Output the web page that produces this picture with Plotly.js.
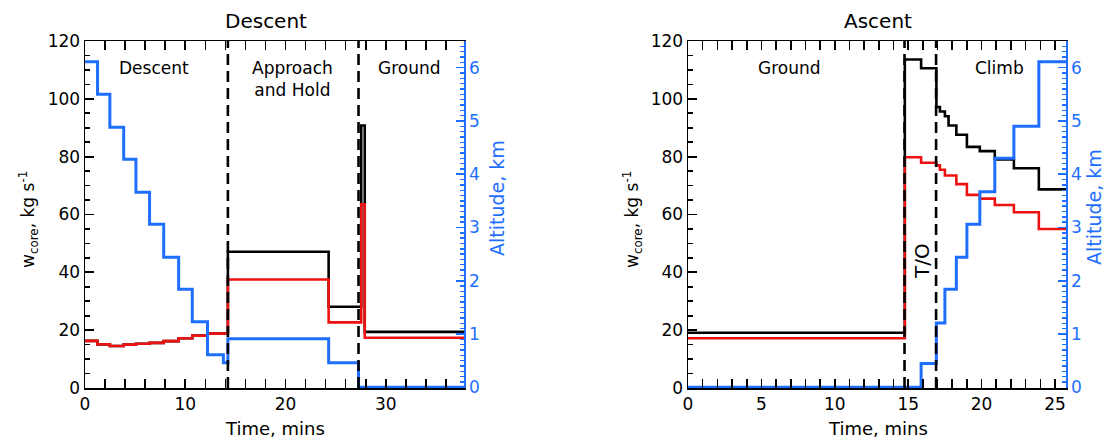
<!DOCTYPE html>
<html>
<head>
<meta charset="utf-8">
<script src="https://cdn.plot.ly/plotly-3.0.1.min.js"></script>
<style>html,body{margin:0;padding:0;background:#fff;}#chart{width:1106px;height:440px;}</style>
</head>
<body>
<div id="chart"></div>
<script>
// ---------------- Data: Descent panel ----------------
const descentStart = [0, 1.25, 2.48, 3.86, 5.08, 6.44, 7.85, 9.34, 10.7, 12.22, 13.8, 14.25, 24.3, 27.28, 27.55, 27.9];
const descentEnd = 37.8;
const descentTotal = [16.3, 15.1, 14.5, 15.0, 15.3, 15.6, 16.2, 17.2, 18.1, 18.8, 18.8, 47.1, 28.1, 28.1, 90.8, 19.4];
const descentCore  = [16.3, 15.1, 14.5, 15.0, 15.3, 15.6, 16.2, 17.2, 18.1, 18.8, 18.8, 37.5, 22.7, 22.7, 63.5, 17.4];
const descentAlt   = [6.11, 5.50, 4.88, 4.28, 3.66, 3.06, 2.44, 1.84, 1.23, 0.61, 0.46, 0.91, 0.46, 0, 0, 0];
const descentPhaseLines = [14.25, 27.28];

// ---------------- Data: Ascent panel ----------------
const ascentStart = [0, 14.77, 15.88, 16.92, 17.16, 17.5, 17.75, 18.28, 19.0, 19.88, 20.9, 22.2, 23.9];
const ascentEnd = 25.75;
const ascentTotal = [19.1, 113.6, 110.6, 97.2, 95.6, 94.0, 90.8, 87.6, 83.4, 81.9, 79.0, 76.0, 68.7];
const ascentCore  = [17.2, 79.8, 77.9, 77.0, 75.5, 73.5, 73.5, 70.5, 66.8, 65.5, 63.3, 60.8, 55.0];
const ascentAlt   = [0, 0, 0.45, 1.21, 1.21, 1.84, 1.84, 2.44, 3.06, 3.67, 4.3, 4.9, 6.11];
const ascentPhaseLines = [14.75, 16.9];

const F = 'DejaVu Sans, Liberation Sans, sans-serif';
const BLUE = '#1f6fff', RED = '#ee1111', BLACK = '#000000';
const ALT_RANGE = [-0.012, 6.5];
const W_RANGE = [0, 120];

function stepX(starts, end){ return starts.concat([end]); }
function stepY(vals){ return vals.concat([vals[vals.length-1]]); }

function tr(starts, end, vals, color, xa, ya, w){
  return {x: stepX(starts, end), y: stepY(vals), xaxis: xa, yaxis: ya, type:'scatter', mode:'lines',
          line:{shape:'hv', color: color, width: w}, hoverinfo:'skip', showlegend:false};
}

const data = [
  tr(descentStart, descentEnd, descentTotal, BLACK, 'x', 'y', 2.6),
  tr(descentStart, descentEnd, descentCore, RED, 'x', 'y', 2.6),
  tr(descentStart, descentEnd, descentAlt, BLUE, 'x', 'y2', 3),
  tr(ascentStart, ascentEnd, ascentTotal, BLACK, 'x2', 'y3', 2.6),
  tr(ascentStart, ascentEnd, ascentCore, RED, 'x2', 'y3', 2.6),
  tr(ascentStart, ascentEnd, ascentAlt, BLUE, 'x2', 'y4', 3)
];

const tf = {family: F, size: 17, color: BLACK};
const tfb = {family: F, size: 17, color: BLUE};

function xax(domain, range, dtick, minorDtick, anchor){
  return {domain: domain, range: range, anchor: anchor, dtick: dtick, tick0: 0, tickmode: 'linear',
    showline: true, linewidth: 1.5, linecolor: BLACK, mirror: 'allticks',
    ticks: 'inside', ticklen: 9, tickwidth: 1.7, tickcolor: BLACK,
    minor: {ticks: 'inside', dtick: minorDtick, tick0: 0, tickmode: 'linear', ticklen: 5, tickwidth: 1.6, tickcolor: BLACK, showgrid: false},
    showgrid: false, zeroline: false, tickfont: tf, fixedrange: true};
}
function yax(anchor){
  return {domain: [0,1], range: W_RANGE, anchor: anchor, dtick: 20, tick0: 0, tickmode: 'linear',
    showline: true, linewidth: 1.5, linecolor: BLACK, mirror: false,
    ticks: 'inside', ticklen: 9, tickwidth: 1.7, tickcolor: BLACK,
    minor: {ticks: 'inside', dtick: 5, tick0: 0, tickmode: 'linear', ticklen: 5, tickwidth: 1.6, tickcolor: BLACK, showgrid: false},
    showgrid: false, zeroline: false, tickfont: tf, fixedrange: true};
}
function y2ax(over, anchor){
  return {overlaying: over, side: 'right', anchor: anchor, range: ALT_RANGE, dtick: 1, tick0: 0, tickmode: 'linear',
    showline: true, linewidth: 1.5, linecolor: BLUE,
    ticks: 'inside', ticklen: 8, tickwidth: 1.7, tickcolor: BLUE,
    minor: {ticks: 'inside', dtick: 0.1, tick0: 0, tickmode: 'linear', ticklen: 4, tickwidth: 1.4, tickcolor: BLUE, showgrid: false},
    showgrid: false, zeroline: false, tickfont: tfb, fixedrange: true};
}

const shapes = [];
descentPhaseLines.forEach(t => shapes.push({type:'line', xref:'x', yref:'y domain', x0:t, x1:t, y0:0, y1:1,
  line:{color:BLACK, width:2.6, dash:'11px,6px'}}));
ascentPhaseLines.forEach(t => shapes.push({type:'line', xref:'x2', yref:'y3 domain', x0:t, x1:t, y0:0, y1:1,
  line:{color:BLACK, width:2.6, dash:'11px,6px'}}));

function pa(text, x, y, size, color, angle){
  return {text: text, xref:'paper', yref:'paper', x: x, y: y, showarrow:false,
    font:{family:F, size:size, color:color||BLACK}, textangle: angle||0, xanchor:'center', yanchor:'middle'};
}
const L = 85, R = 40, T = 41, B = 52, W = 1106, H = 440;
const px = x => (x - L) / (W - L - R);
const py = y => (H - B - y) / (H - T - B);

const annotations = [
  pa('Descent', px(266), py(21), 20),
  pa('Ascent', px(878), py(21), 20),
  pa('Descent', px(154), py(68), 17),
  pa('Approach<br>and Hold', px(292), py(79), 17),
  pa('Ground', px(409), py(68), 17),
  pa('Ground', px(789), py(68), 17),
  pa('Climb', px(999), py(68), 17),
  pa('T/O', px(922), py(261), 20, BLACK, -90),
  pa('Time, mins', px(275), py(428), 18),
  pa('Time, mins', px(878), py(428), 18),
  pa('w<sub>core</sub>, kg s<sup>-1</sup>', px(29), py(220), 17, BLACK, -90),
  pa('w<sub>core</sub>, kg s<sup>-1</sup>', px(633), py(220), 17, BLACK, -90),
  pa('Altitude, km', px(497), py(198), 19, BLUE, -90),
  pa('Altitude, km', px(1094), py(207), 19, BLUE, -90)
];

const layout = {
  width: W, height: H,
  margin: {l: L, r: R, t: T, b: B, pad: 0},
  paper_bgcolor: '#fff', plot_bgcolor: '#fff',
  showlegend: false,
  xaxis: xax([0, px(464)], [0, descentEnd], 10, 2, 'y'),
  yaxis: yax('x'),
  yaxis2: y2ax('y', 'x'),
  xaxis2: xax([px(688), 1], [0, ascentEnd], 5, 1, 'y3'),
  yaxis3: yax('x2'),
  yaxis4: y2ax('y3', 'x2'),
  shapes: shapes,
  annotations: annotations
};

Plotly.newPlot('chart', data, layout, {displayModeBar: false, staticPlot: true});
</script>
</body>
</html>
